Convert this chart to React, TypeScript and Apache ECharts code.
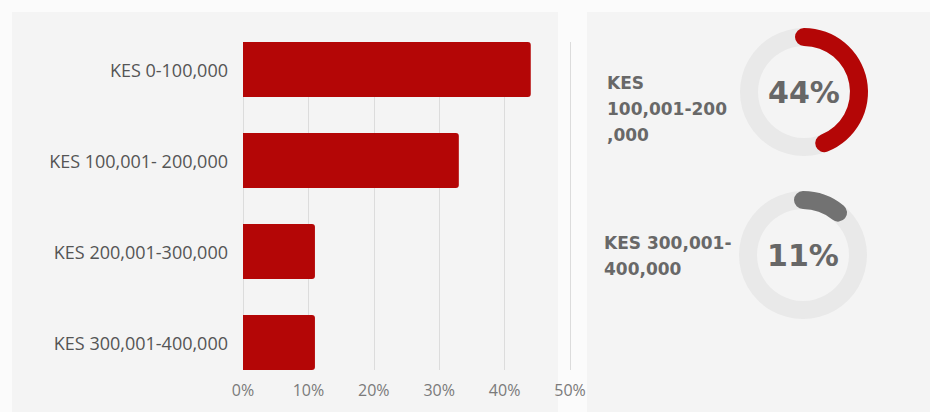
import React, { useEffect, useRef } from "react";
import * as echarts from "echarts";

const categories = ["KES 0-100,000", "KES 100,001- 200,000", "KES 200,001-300,000", "KES 300,001-400,000"];
const shares = [44, 33, 11, 11];
const axisTicks = [0, 10, 20, 30, 40, 50];
const donutLabels = ["KES\n100,001-200\n,000", "KES 300,001-\n400,000"];
const donutValues = [44, 11];
const donutColors = ["#b40606", "#727272"];

const RED = "#b40606";
const FONT = "'Open Sans', 'Noto Sans', sans-serif";
const BOLD = "'DejaVu Sans', sans-serif";

export default function App() {
  const ref = useRef<HTMLDivElement>(null);
  useEffect(() => {
    if (!ref.current) return;
    const chart = echarts.init(ref.current, undefined, { renderer: "svg" });
    const donutCenters = [[804, 92], [803, 255]];
    const gauges = donutValues.map((v, i) => ({
      type: "gauge",
      center: donutCenters[i],
      radius: 64,
      startAngle: 90,
      endAngle: -270,
      min: 0,
      max: 100,
      pointer: { show: false },
      axisTick: { show: false },
      splitLine: { show: false },
      axisLabel: { show: false },
      title: { show: false },
      axisLine: { lineStyle: { width: 18, color: [[1, "#e9e9e9"]] } },
      progress: { show: true, roundCap: true, width: 18, itemStyle: { color: donutColors[i] } },
      detail: {
        formatter: "{value}%",
        offsetCenter: [0, 0],
        fontSize: 30,
        fontWeight: "bold",
        fontFamily: BOLD,
        color: "#676767",
      },
      data: [{ value: v }],
      z: 5,
    }));
    chart.setOption({
      animation: false,
      backgroundColor: "#fbfbfb",
      graphic: [
        { type: "rect", z: -10, shape: { x: 12, y: 12, width: 546, height: 400 }, style: { fill: "#f4f4f4" }, silent: true },
        { type: "rect", z: -10, shape: { x: 587, y: 12, width: 343, height: 400 }, style: { fill: "#f4f4f4" }, silent: true },
        {
          type: "text", x: 607, y: 70, z: 10,
          style: { text: donutLabels[0], fontSize: 17, fontWeight: "bold", fontFamily: BOLD, lineHeight: 26, fill: "#686868", verticalAlign: "top" },
        },
        {
          type: "text", x: 604, y: 230, z: 10,
          style: { text: donutLabels[1], fontSize: 17, fontWeight: "bold", fontFamily: BOLD, lineHeight: 26, fill: "#686868", verticalAlign: "top" },
        },
      ],
      grid: [
        { left: 243, right: 360, top: 24, bottom: 24 },
        { left: 243, right: 360, top: 42, bottom: 42 },
      ],
      xAxis: [
        { gridIndex: 0, type: "value", min: 0, max: 50, interval: 10, show: false },
        {
          gridIndex: 1, type: "value", min: axisTicks[0], max: axisTicks[axisTicks.length - 1], interval: 10,
          axisLine: { show: false }, axisTick: { show: false },
          splitLine: { show: true, lineStyle: { color: "#dcdcdc", width: 1 } },
          axisLabel: { formatter: "{value}%", color: "#7a7a7a", fontSize: 16, fontFamily: FONT, margin: 12 },
        },
      ],
      yAxis: [
        {
          gridIndex: 0, type: "category", data: categories, inverse: true,
          axisLine: { show: false }, axisTick: { show: false },
          axisLabel: { color: "#555", fontSize: 18, fontFamily: FONT, margin: 15 },
        },
        { gridIndex: 1, type: "value", min: 0, max: 1, show: false },
      ],
      series: [
        {
          type: "bar", xAxisIndex: 0, yAxisIndex: 0, data: shares, barWidth: 55, z: 3,
          itemStyle: { color: RED, borderRadius: [0, 3, 3, 0] },
        },
        { type: "scatter", xAxisIndex: 1, yAxisIndex: 1, data: [], silent: true },
        ...gauges,
      ],
    } as any);
    return () => chart.dispose();
  }, []);
  return <div ref={ref} style={{ position: "fixed", left: 0, top: 0, width: 930, height: 412 }} />;
}
